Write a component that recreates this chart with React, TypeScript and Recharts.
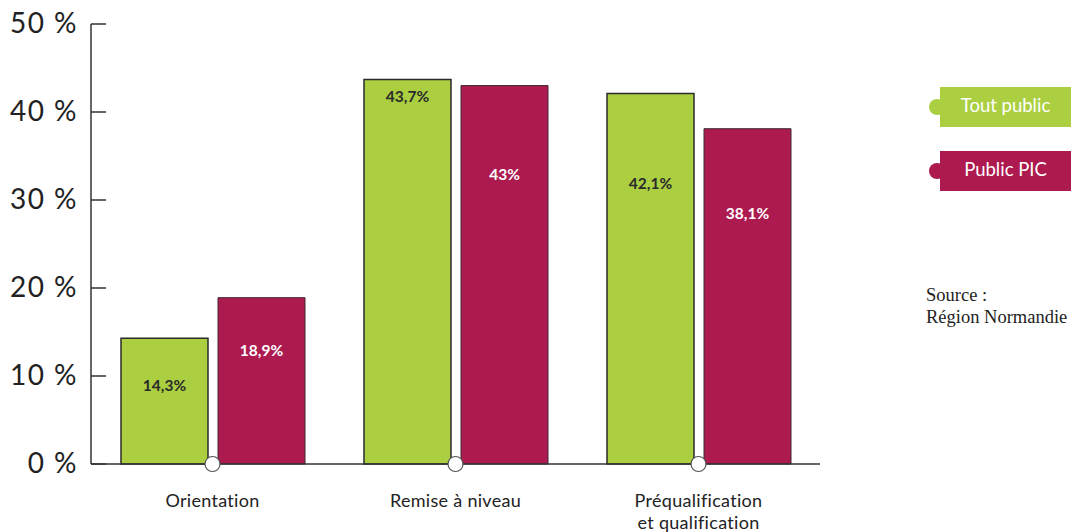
import React from 'react';
import { BarChart, Bar, XAxis, YAxis, LabelList } from 'recharts';

const categories = ['Orientation', 'Remise à niveau', 'Préqualification\net qualification'];
const toutPublic = [14.3, 43.7, 42.1];
const publicPic = [18.9, 43, 38.1];
const yTicks = [0, 10, 20, 30, 40, 50];

const GREEN = '#abcf41';
const MAGENTA = '#ad1a50';
const FONT = 'Lato, "Open Sans", sans-serif';

// how far below the top of each bar its value label sits (px)
const dropTout = [48, 18, 90];
const dropPic = [53, 89, 85];

const data = categories.map((name, i) => ({ name, tout: toutPublic[i], pic: publicPic[i] }));

const fmt = (v: number) => String(v).replace('.', ',') + '%';

const YTick = (props: any) => {
  const { x, y, payload } = props;
  return (
    <g>
      <line x1={x} x2={x + 15} y1={y} y2={y} stroke="#333" strokeWidth={1.5} />
      <text x={x - 13} y={y + 9} textAnchor="end" fontSize={28} letterSpacing={1.5} fill="#222" fontFamily={FONT}>
        {payload.value} %
      </text>
    </g>
  );
};

const XTick = (props: any) => {
  const { x, y, payload } = props;
  const lines = String(payload.value).split('\n');
  return (
    <g>
      <circle cx={x} cy={y} r={7.5} fill="#fff" stroke="#555" strokeWidth={1.2} />
      {lines.map((l, i) => (
        <text key={i} x={x} y={y + 43 + i * 22} textAnchor="middle" fontSize={18} letterSpacing={0.3} fill="#222" fontFamily={FONT}>
          {l}
        </text>
      ))}
    </g>
  );
};

const makeLabel = (drops: number[], color: string) => (props: any) => {
  const { x, y, width, value, index } = props;
  return (
    <text x={x + width / 2} y={y + drops[index] + 5} textAnchor="middle" fontSize={15.5} fontWeight={700} fill={color} fontFamily={FONT}>
      {fmt(value)}
    </text>
  );
};

const LegendItem = ({ top, color, label }: { top: number; color: string; label: string }) => (
  <div style={{ position: 'absolute', left: 928, top, width: 143, height: 40 }}>
    <div style={{ position: 'absolute', left: 1, top: 12, width: 16, height: 16, borderRadius: '50%', background: color }} />
    <div
      style={{
        position: 'absolute', left: 12, top: 0, width: 131, height: 40, background: color, color: '#fff',
        fontFamily: FONT, fontSize: 18.5, lineHeight: '37px', textAlign: 'center',
      }}
    >
      {label}
    </div>
  </div>
);

export default function App() {
  return (
    <div style={{ position: 'absolute', left: 0, top: 0, width: 1071, height: 532, background: '#fff' }}>
      <BarChart
        width={1071}
        height={532}
        data={data}
        margin={{ top: 24, right: 251, bottom: 0, left: 0 }}
        barGap={10}
        barSize={87}
      >
        <Bar dataKey="tout" fill={GREEN} stroke="#2b2b2b" strokeWidth={1.5} isAnimationActive={false}>
          <LabelList dataKey="tout" content={makeLabel(dropTout, '#2a2a2a')} />
        </Bar>
        <Bar dataKey="pic" fill={MAGENTA} stroke="#3a2a30" strokeWidth={1} isAnimationActive={false}>
          <LabelList dataKey="pic" content={makeLabel(dropPic, '#fff')} />
        </Bar>
        <YAxis
          width={91}
          domain={[0, 50]}
          ticks={yTicks}
          interval={0}
          tickSize={0}
          tickMargin={0}
          tickLine={false}
          axisLine={{ stroke: '#333', strokeWidth: 1.5 }}
          tick={<YTick />}
        />
        <XAxis
          dataKey="name"
          height={68}
          tickSize={0}
          tickMargin={0}
          tickLine={false}
          axisLine={{ stroke: '#333', strokeWidth: 1.5 }}
          tick={<XTick />}
          interval={0}
        />
      </BarChart>
      <LegendItem top={87} color={GREEN} label="Tout public" />
      <LegendItem top={151} color={MAGENTA} label="Public PIC" />
      <div style={{ position: 'absolute', left: 926, top: 284, fontFamily: '"Liberation Serif", serif', fontSize: 18.5, lineHeight: '22px', color: '#222' }}>
        Source :<br />Région Normandie
      </div>
    </div>
  );
}
